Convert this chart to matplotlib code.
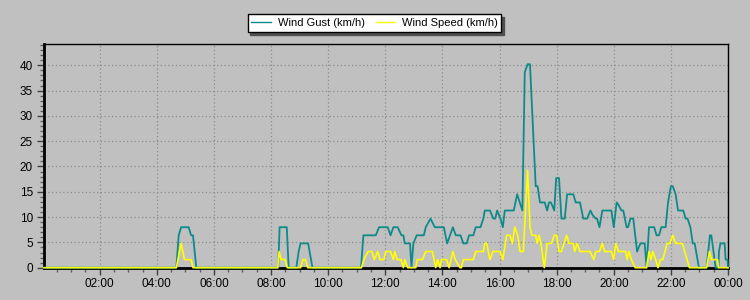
import matplotlib
matplotlib.use("Agg")
import matplotlib.pyplot as plt
from matplotlib.ticker import MultipleLocator, FuncFormatter

# wind data, (time, km/h) break points
gust_times = ["00:03", "04:41", "04:46", "04:51", "05:07", "05:12", "05:16", "05:23",
              "08:15", "08:18", "08:33", "08:37", "08:53", "08:58", "09:02", "09:18", "09:27",
              "11:09", "11:14", "11:40", "11:47", "12:05", "12:11", "12:17", "12:26", "12:34",
              "12:38", "12:41", "12:52", "12:55", "12:59", "13:06", "13:21", "13:25", "13:35",
              "13:44", "14:03", "14:10", "14:22", "14:28", "14:38", "14:44", "14:51", "14:56",
              "15:05", "15:10", "15:20", "15:26", "15:29", "15:40", "15:47", "15:51", "15:55",
              "16:02", "16:07", "16:11", "16:30", "16:37", "16:48", "16:53", "16:59", "17:04",
              "17:16", "17:20", "17:25", "17:35", "17:40", "17:44", "17:48", "17:55", "17:59",
              "18:05", "18:10", "18:17", "18:22", "18:35", "18:40", "18:49", "18:56", "19:04",
              "19:11", "19:15", "19:22", "19:25", "19:30", "19:36", "19:55", "20:00", "20:06",
              "20:10", "20:16", "20:20", "20:27", "20:30", "20:35", "20:41", "20:49", "20:56",
              "21:05", "21:09", "21:14", "21:25", "21:30", "21:35", "21:40", "21:49", "21:54",
              "22:00", "22:04", "22:10", "22:15", "22:26", "22:31", "22:35", "22:41", "22:46",
              "22:50", "22:59", "23:15", "23:22", "23:25", "23:34", "23:40", "23:41", "23:44",
              "23:53", "23:55", "23:59", "24:00"]
gust = [0, 0, 6.4, 8.0, 8.0, 6.4, 6.4, 0,
        0, 8.0, 8.0, 0, 0, 3.2, 4.8, 4.8, 0,
        0, 6.4, 6.4, 8.0, 8.0, 6.4, 8.0, 8.0, 6.4,
        6.4, 4.8, 4.8, 0, 4.8, 6.4, 6.4, 8.0, 9.7,
        8.0, 8.0, 4.8, 8.0, 6.4, 6.4, 4.8, 4.8, 6.4,
        6.4, 8.0, 8.0, 9.7, 11.3, 11.3, 9.7, 9.7, 11.3,
        9.7, 8.0, 11.3, 11.3, 14.5, 11.3, 38.6, 40.2, 40.2,
        16.1, 16.1, 12.9, 12.9, 11.3, 12.9, 12.9, 11.3, 17.7,
        17.7, 9.7, 9.7, 14.5, 14.5, 12.9, 12.9, 9.7, 9.7,
        11.3, 10.5, 9.7, 9.7, 8.0, 11.3, 11.3, 8.0, 12.9,
        12.4, 11.3, 11.3, 8.0, 8.0, 9.7, 9.7, 3.2, 4.8,
        4.8, 0, 8.0, 8.0, 6.4, 6.4, 8.0, 8.0, 12.9,
        16.1, 16.1, 14.5, 11.3, 11.3, 9.7, 9.7, 8.0, 4.8,
        4.8, 0, 0, 6.4, 6.4, 0, 0, 3.2, 4.8,
        4.8, 1.6, 1.6, 0]

speed_times = ["00:03", "04:41", "04:51", "04:58", "05:12", "05:16",
               "08:14", "08:17", "08:21", "08:30", "08:34", "09:02", "09:07", "09:12", "09:17",
               "11:10", "11:15", "11:24", "11:32", "11:37", "11:44", "11:49", "11:57", "12:01",
               "12:11", "12:17", "12:20", "12:25", "12:33", "12:38", "12:41", "12:47", "13:04",
               "13:07", "13:18", "13:25", "13:39", "13:46", "13:50", "13:55", "13:58", "14:09",
               "14:14", "14:22", "14:27", "14:37", "14:40", "14:44", "15:05", "15:10", "15:26",
               "15:29", "15:33", "15:40", "15:46", "16:01", "16:07", "16:15", "16:22", "16:27",
               "16:32", "16:38", "16:43", "16:50", "16:59", "17:04", "17:08", "17:16", "17:19",
               "17:23", "17:27", "17:34", "17:40", "17:49", "17:55", "18:00", "18:05", "18:10",
               "18:21", "18:26", "18:35", "18:38", "18:43", "18:49", "19:10", "19:18", "19:22",
               "19:30", "19:36", "19:41", "19:55", "20:00", "20:04", "20:10", "20:25", "20:28",
               "20:32", "20:37", "20:45", "21:09", "21:14", "21:18", "21:22", "21:28", "21:33",
               "21:38", "21:43", "21:52", "21:58", "22:04", "22:10", "22:24", "22:29", "22:39",
               "23:15", "23:21", "23:25", "23:38", "23:40", "24:00"]
speed = [0, 0, 4.8, 1.6, 1.6, 0,
         0, 3.2, 1.6, 1.6, 0, 0, 1.6, 1.6, 0,
         0, 1.6, 3.2, 3.2, 1.6, 3.2, 1.6, 1.6, 3.2,
         3.2, 1.6, 3.2, 1.6, 1.6, 0, 1.6, 0, 0,
         1.6, 1.6, 3.2, 3.2, 0, 1.6, 0, 1.6, 1.6,
         0, 3.2, 1.6, 0, 0, 1.6, 1.6, 3.2, 3.2,
         4.8, 4.8, 1.6, 3.2, 3.2, 1.6, 6.4, 6.4, 4.8,
         8.0, 6.4, 3.2, 3.2, 19.3, 8.0, 6.4, 6.4, 4.8,
         6.4, 4.8, 0, 4.8, 4.8, 6.4, 6.4, 3.2, 3.2,
         6.4, 4.8, 4.8, 3.2, 4.8, 3.2, 3.2, 1.6, 3.2,
         3.2, 4.8, 3.2, 3.2, 1.6, 4.8, 3.2, 3.2, 1.6,
         3.2, 1.6, 0, 0, 3.2, 1.6, 3.2, 1.6, 0,
         1.6, 1.6, 4.8, 4.8, 6.4, 4.8, 4.8, 3.2, 0,
         0, 3.2, 1.6, 1.6, 0, 0]


def to_h(s):
    hh, mm = s.split(":")
    return int(hh) + int(mm) / 60.0


plt.rcParams['font.family'] = ['Liberation Sans', 'DejaVu Sans']
plt.rcParams['font.size'] = 8

bg = '#c0c0c0'
fig = plt.figure(figsize=(7.5, 3), dpi=100, facecolor=bg)
ax = fig.add_axes([44 / 750, 1 - 267.7 / 300, 684 / 750, (267.7 - 44) / 300])
ax.set_facecolor(bg)

l1, = ax.plot([to_h(t) for t in gust_times], gust, color='#0f8a8a', lw=1.3,
              label='Wind Gust (km/h)', clip_on=False, zorder=5)
l2, = ax.plot([to_h(t) for t in speed_times], speed, color='#ffff00', lw=1.2,
              label='Wind Speed (km/h)', clip_on=False, zorder=6)

ax.set_xlim(0.05, 24)
ax.set_ylim(0, 44.2)

ax.xaxis.set_minor_locator(MultipleLocator(0.5))
ax.xaxis.set_major_formatter(FuncFormatter(lambda x, p: "%02d:00" % (int(round(x)) % 24)))
ax.yaxis.set_major_locator(MultipleLocator(5))
ax.yaxis.set_minor_locator(MultipleLocator(1))

ax.tick_params(which='major', length=5, width=1, color='#404040', labelsize=8.5, pad=3)
ax.tick_params(which='minor', length=3, width=1, color='#606060')
ax.tick_params(axis='x', which='major', pad=2.5)

ax.grid(True, which='major', color='#8c8c8c', linestyle=(0, (1, 2)), linewidth=0.9)
ax.set_axisbelow(True)

for side in ['top', 'right']:
    ax.spines[side].set_linewidth(1)
for side in ['left', 'bottom']:
    ax.spines[side].set_linewidth(2)
for s in ax.spines.values():
    s.set_color('black')

# x ticks start at 02:00 on the chart
ax.set_xticks([h for h in range(2, 25, 2)])

leg = fig.legend(handles=[l1, l2], loc='center', bbox_to_anchor=(374.5 / 750, 1 - 23 / 300),
                 ncol=2, frameon=True, fancybox=False, shadow={'color': '#505050', 'alpha': 1},
                 handlelength=1.75, handletextpad=0.6, columnspacing=1.0, borderpad=0.35,
                 fontsize=8)
leg.get_frame().set_facecolor('white')
leg.get_frame().set_edgecolor('black')
leg.get_frame().set_linewidth(1)
for line in leg.get_lines():
    line.set_linewidth(1)

plt.savefig('out.png', dpi=100, facecolor=bg)
